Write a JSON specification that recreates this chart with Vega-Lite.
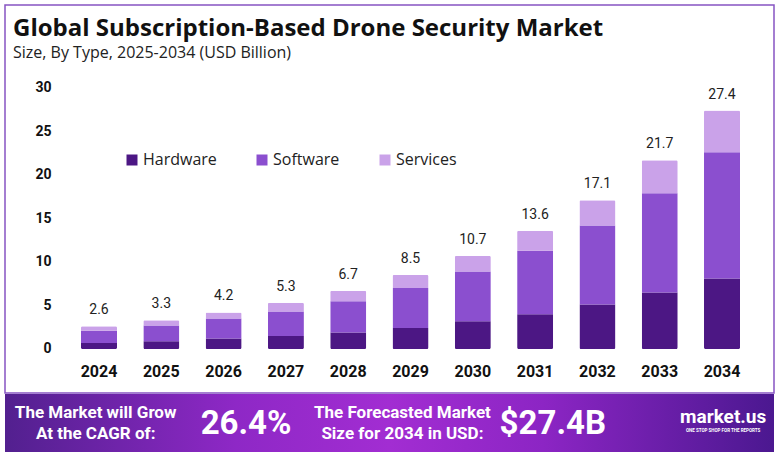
{
  "$schema": "https://vega.github.io/schema/vega-lite/v6.json",
  "background": "white",
  "padding": {"left": 4, "top": 4, "right": 0, "bottom": 0},
  "spacing": 0,
  "config": {"font": "Roboto", "view": {"stroke": null}},
  "datasets": {
    "segments": [
      {"year": "2024", "type": "Hardware", "value": 0.7},
      {"year": "2024", "type": "Software", "value": 1.4},
      {"year": "2024", "type": "Services", "value": 0.5},
      {"year": "2025", "type": "Hardware", "value": 0.9},
      {"year": "2025", "type": "Software", "value": 1.8},
      {"year": "2025", "type": "Services", "value": 0.6},
      {"year": "2026", "type": "Hardware", "value": 1.2},
      {"year": "2026", "type": "Software", "value": 2.3},
      {"year": "2026", "type": "Services", "value": 0.7},
      {"year": "2027", "type": "Hardware", "value": 1.5},
      {"year": "2027", "type": "Software", "value": 2.8},
      {"year": "2027", "type": "Services", "value": 1.0},
      {"year": "2028", "type": "Hardware", "value": 1.9},
      {"year": "2028", "type": "Software", "value": 3.6},
      {"year": "2028", "type": "Services", "value": 1.2},
      {"year": "2029", "type": "Hardware", "value": 2.4},
      {"year": "2029", "type": "Software", "value": 4.6},
      {"year": "2029", "type": "Services", "value": 1.5},
      {"year": "2030", "type": "Hardware", "value": 3.2},
      {"year": "2030", "type": "Software", "value": 5.7},
      {"year": "2030", "type": "Services", "value": 1.8},
      {"year": "2031", "type": "Hardware", "value": 4.0},
      {"year": "2031", "type": "Software", "value": 7.3},
      {"year": "2031", "type": "Services", "value": 2.3},
      {"year": "2032", "type": "Hardware", "value": 5.1},
      {"year": "2032", "type": "Software", "value": 9.1},
      {"year": "2032", "type": "Services", "value": 2.9},
      {"year": "2033", "type": "Hardware", "value": 6.5},
      {"year": "2033", "type": "Software", "value": 11.4},
      {"year": "2033", "type": "Services", "value": 3.8},
      {"year": "2034", "type": "Hardware", "value": 8.1},
      {"year": "2034", "type": "Software", "value": 14.5},
      {"year": "2034", "type": "Services", "value": 4.8}
    ],
    "typeOrder": [
      {"type": "Hardware", "rank": 1},
      {"type": "Software", "rank": 2},
      {"type": "Services", "rank": 3}
    ]
  },
  "vconcat": [
    {
      "width": 769,
      "height": 388,
      "view": {"stroke": "#8654c2", "strokeWidth": 1.5, "fill": "white"},
      "title": {
        "text": "Global Subscription-Based Drone Security Market",
        "subtitle": "Size, By Type, 2025-2034 (USD Billion)",
        "anchor": "start",
        "frame": "group",
        "offset": -56,
        "dx": 8,
        "font": "Open Sans",
        "fontSize": 24,
        "fontWeight": "bold",
        "color": "#111111",
        "subtitleFont": "Open Sans",
        "subtitleFontSize": 16,
        "subtitleColor": "#222222",
        "subtitlePadding": 4
      },
      "encoding": {
        "x": {
          "field": "year",
          "type": "ordinal",
          "scale": {
            "domain": ["2024", "2025", "2026", "2027", "2028", "2029", "2030", "2031", "2032", "2033", "2034"],
            "paddingInner": 0.422,
            "paddingOuter": 0.8826,
            "align": 0.691
          },
          "axis": {
            "orient": "bottom",
            "offset": -44,
            "domain": false,
            "ticks": false,
            "tickSize": 0,
            "grid": false,
            "title": null,
            "labelAngle": 0,
            "labelPadding": 14,
            "labelFont": "Roboto",
            "labelFontSize": 16,
            "labelFontWeight": "bold",
            "labelColor": "#111111"
          }
        },
        "y": {
          "field": "value",
          "type": "quantitative",
          "scale": {"domain": [-5.06, 39.54], "nice": false, "zero": false},
          "axis": {
            "orient": "left",
            "offset": -48,
            "values": [0, 5, 10, 15, 20, 25, 30],
            "domain": false,
            "ticks": false,
            "tickSize": 0,
            "grid": false,
            "title": null,
            "labelPadding": 2,
            "labelFont": "Roboto",
            "labelFontSize": 14,
            "labelFontWeight": "bold",
            "labelColor": "#111111"
          }
        }
      },
      "layer": [
        {
          "data": {"values": [{"year": "2024", "year2": "2034"}]},
          "mark": {"type": "rule", "color": "#dcdcdc", "strokeWidth": 1.5, "xOffset": -36, "x2Offset": 31},
          "encoding": {"x2": {"field": "year2"}, "y": {"datum": 0}}
        },
        {
          "data": {"name": "segments"},
          "transform": [
            {"lookup": "type", "from": {"data": {"name": "typeOrder"}, "key": "type", "fields": ["rank"]}}
          ],
          "mark": {"type": "bar", "cornerRadius": 1.5},
          "encoding": {
            "order": {"field": "rank", "type": "quantitative", "sort": "ascending"},
            "color": {
              "field": "type",
              "type": "nominal",
              "sort": ["Hardware", "Software", "Services"],
              "scale": {
                "domain": ["Hardware", "Software", "Services"],
                "range": ["#4c1784", "#8b4fcf", "#caa2e9"]
              },
              "legend": {
                "orient": "none",
                "legendX": 119,
                "legendY": 147,
                "direction": "horizontal",
                "title": null,
                "padding": 0,
                "symbolType": "square",
                "symbolSize": 121,
                "symbolStrokeWidth": 0,
                "labelFont": "Open Sans",
                "labelFontSize": 16,
                "labelColor": "#222222",
                "labelOffset": 3,
                "columnPadding": 37
              }
            }
          }
        },
        {
          "data": {"name": "segments"},
          "transform": [
            {"aggregate": [{"op": "sum", "field": "value", "as": "value"}], "groupby": ["year"]}
          ],
          "mark": {"type": "text", "baseline": "bottom", "dy": -9, "fontSize": 14, "color": "#222222"},
          "encoding": {"text": {"field": "value", "type": "quantitative", "format": ".1f"}}
        }
      ]
    },
    {
      "width": 769,
      "height": 58,
      "view": {
        "stroke": null,
        "fill": {
          "gradient": "linear",
          "x1": 0, "y1": 0, "x2": 1, "y2": 0,
          "stops": [
            {"offset": 0, "color": "#52208f"},
            {"offset": 0.3, "color": "#8e28c6"},
            {"offset": 0.5, "color": "#a22dd2"},
            {"offset": 0.7, "color": "#8c25c4"},
            {"offset": 1, "color": "#4b1890"}
          ]
        }
      },
      "encoding": {
        "x": {
          "field": "slot",
          "type": "nominal",
          "scale": {"type": "point", "domain": ["a", "b", "c", "d", "e"], "padding": 0.507, "align": 0.583},
          "axis": null
        }
      },
      "layer": [
        {
          "data": {"values": [
            {"slot": "a", "text": ["The Market will Grow", "At the CAGR of:"]},
            {"slot": "c", "text": ["The Forecasted Market", "Size for 2034 in USD:"]}
          ]},
          "mark": {"type": "text", "color": "white", "font": "Roboto", "fontSize": 17, "fontWeight": "bold", "lineHeight": 21, "align": "center", "baseline": "middle", "dy": -10},
          "encoding": {"text": {"field": "text"}}
        },
        {
          "data": {"values": [
            {"slot": "b", "text": "26.4%"},
            {"slot": "d", "text": "$27.4B"}
          ]},
          "mark": {"type": "text", "color": "white", "font": "Roboto", "fontSize": 33, "fontWeight": "bold", "align": "center", "baseline": "middle", "dx": -3, "dy": 1},
          "encoding": {"text": {"field": "text"}}
        },
        {
          "data": {"values": [{"slot": "e", "text": "market.us"}]},
          "mark": {"type": "text", "color": "white", "font": "Roboto", "fontSize": 19, "fontWeight": "bold", "align": "center", "baseline": "middle", "dx": 14, "dy": -6},
          "encoding": {"text": {"field": "text"}}
        },
        {
          "data": {"values": [{"slot": "e", "text": "ONE STOP SHOP FOR THE REPORTS"}]},
          "mark": {"type": "text", "color": "white", "font": "Roboto", "fontSize": 4.5, "fontWeight": "bold", "align": "center", "baseline": "middle", "dx": 14, "dy": 8},
          "encoding": {"text": {"field": "text"}}
        }
      ]
    }
  ]
}
